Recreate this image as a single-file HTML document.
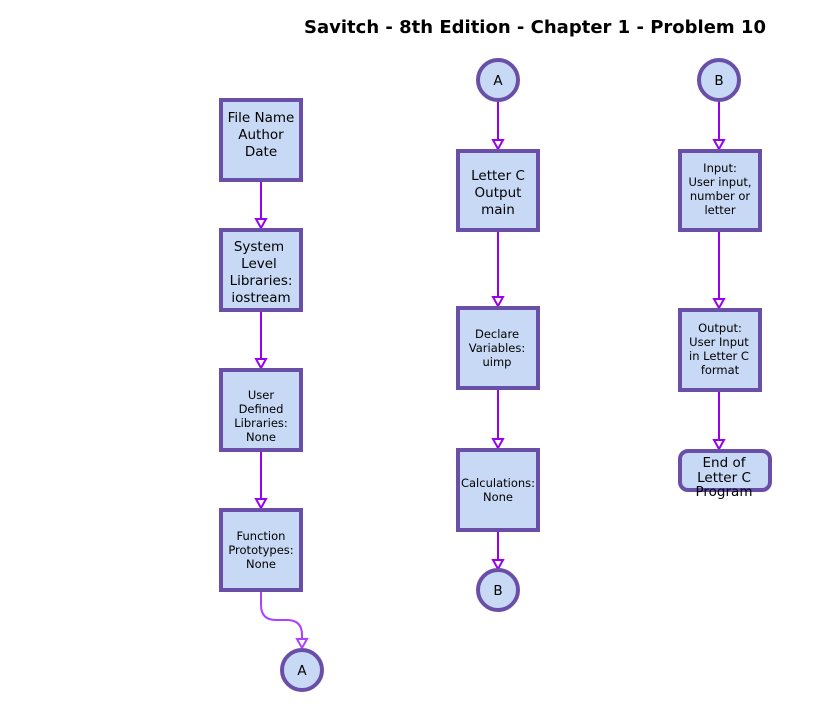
<!DOCTYPE html>
<html><head><style>
body{margin:0;background:#fff;}
svg text{font-family:"DejaVu Sans","Liberation Sans",sans-serif;fill:#000;}
</style></head><body>
<svg width="838" height="710" xmlns="http://www.w3.org/2000/svg">
<text x="535" y="33" text-anchor="middle" font-size="18" font-weight="bold">Savitch - 8th Edition - Chapter 1 - Problem 10</text>
<g stroke="#9900ee" stroke-width="2" fill="none">
<line x1="261" y1="181" x2="261" y2="220"/>
<line x1="261" y1="311" x2="261" y2="360"/>
<line x1="261" y1="451" x2="261" y2="500"/>
<path d="M261,591 L261,605 Q261,620 276,620 L287,620 Q302,620 302,635 L302,640" stroke="#b040ff"/>
<line x1="498" y1="101" x2="498" y2="141"/>
<line x1="498" y1="231" x2="498" y2="298"/>
<line x1="498" y1="389" x2="498" y2="440"/>
<line x1="498" y1="531" x2="498" y2="561"/>
<line x1="719" y1="101" x2="719" y2="141"/>
<line x1="719" y1="231" x2="719" y2="300"/>
<line x1="719" y1="391" x2="719" y2="441"/>
</g>
<g fill="#fff" stroke="#9900ee" stroke-width="2">
<polygon points="256,219 266,219 261,228"/>
<polygon points="256,359 266,359 261,368"/>
<polygon points="256,499 266,499 261,508"/>
<polygon points="297,639 307,639 302,648" stroke="#b040ff"/>
<polygon points="493,140 503,140 498,149"/>
<polygon points="493,297 503,297 498,306"/>
<polygon points="493,439 503,439 498,448"/>
<polygon points="493,560 503,560 498,569"/>
<polygon points="714,140 724,140 719,149"/>
<polygon points="714,299 724,299 719,308"/>
<polygon points="714,440 724,440 719,449"/>
</g>
<g fill="#c8d9f5" stroke="#6a4fa8" stroke-width="4">
<rect x="221" y="100" width="80" height="80"/>
<rect x="221" y="230" width="80" height="80"/>
<rect x="221" y="370" width="80" height="80"/>
<rect x="221" y="510" width="80" height="80"/>
<rect x="458" y="151" width="80" height="79"/>
<rect x="458" y="308" width="80" height="80"/>
<rect x="458" y="450" width="80" height="80"/>
<rect x="680" y="151" width="80" height="79"/>
<rect x="680" y="310" width="80" height="80"/>
<rect x="680" y="451" width="90" height="39" rx="8"/>
<circle cx="498" cy="80" r="20"/>
<circle cx="719" cy="80" r="20"/>
<circle cx="498" cy="590" r="20"/>
<circle cx="302" cy="670" r="20"/>
</g>
<g text-anchor="middle" font-size="13.5">
<text x="261" y="122">File Name</text><text x="261" y="139">Author</text><text x="261" y="156">Date</text>
<text x="259" y="251">System</text><text x="259" y="268">Level</text><text x="261" y="285">Libraries:</text><text x="261" y="302">iostream</text>
<text x="498" y="180">Letter C</text><text x="498" y="197">Output</text><text x="498" y="214">main</text>
<text x="498" y="85">A</text><text x="719" y="85">B</text><text x="498" y="595">B</text><text x="302" y="675">A</text>
<text x="724" y="467">End of</text><text x="724" y="482">Letter C</text><text x="724" y="496">Program</text>
</g>
<g text-anchor="middle" font-size="11.5">
<text x="261" y="399">User</text><text x="261" y="413">Defined</text><text x="261" y="427">Libraries:</text><text x="261" y="441">None</text>
<text x="261" y="540">Function</text><text x="261" y="554">Prototypes:</text><text x="261" y="568">None</text>
<text x="497" y="338">Declare</text><text x="497" y="352">Variables:</text><text x="497" y="366">uimp</text>
<text x="498" y="487">Calculations:</text><text x="498" y="501">None</text>
<text x="720" y="172">Input:</text><text x="720" y="186">User input,</text><text x="720" y="200">number or</text><text x="720" y="214">letter</text>
<text x="720" y="332">Output:</text><text x="719" y="346">User Input</text><text x="719" y="360">in Letter C</text><text x="720" y="374">format</text>
</g>
</svg>
</body></html>
